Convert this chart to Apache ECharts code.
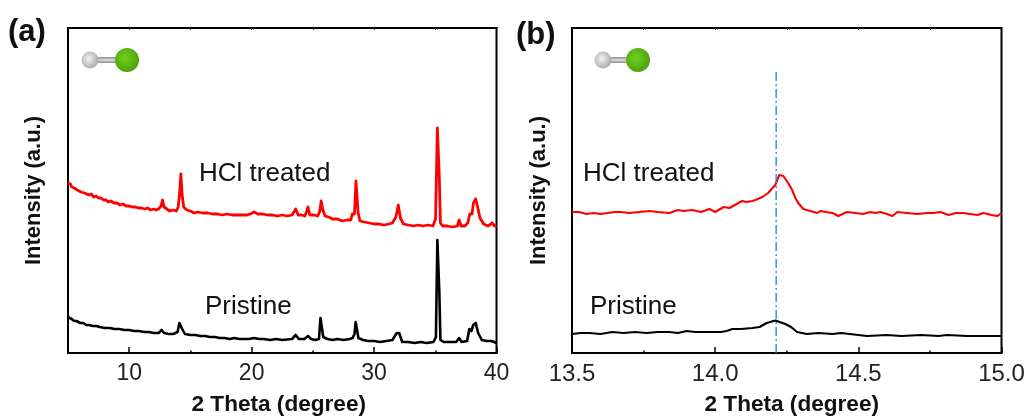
<!DOCTYPE html>
<html><head><meta charset="utf-8">
<style>html,body{margin:0;padding:0;background:#fff}#c{width:1027px;height:417px}</style>
<script src="https://cdn.jsdelivr.net/npm/echarts@6/dist/echarts.min.js"></script>
</head><body><div id="c"></div>
<script>
const hclTreatedA=[[5,170],[5.1,168],[5.2,169],[5.3,166],[5.4,167],[5.5,165],[5.6,166],[5.75,163],[5.9,164],[6.05,161],[6.2,162],[6.35,160],[6.5,161],[6.7,158],[6.9,159],[7.1,156],[7.3,157],[7.5,155],[7.7,155],[7.9,153],[8.1,153],[8.3,151],[8.5,152],[8.75,150],[9,150],[9.25,148],[9.5,149],[9.75,147],[10,147],[10.25,146],[10.5,146],[10.75,145],[11,145],[11.25,144],[11.5,145],[11.75,143],[12,144],[12.2,143],[12.4,144],[12.6,147],[12.72,153],[12.85,146],[13,144],[13.3,142],[13.6,143],[13.85,142],[14.0,146],[14.12,160],[14.22,179],[14.32,158],[14.45,146],[14.7,143],[15,142],[15.3,140],[15.6,141],[16,140],[16.4,140],[16.8,139],[17.2,139],[17.6,138],[18,139],[18.4,138],[18.8,138],[19.2,138],[19.6,138],[19.9,139],[20.2,141],[20.5,139],[20.9,139],[21.3,138],[21.7,138],[22.1,137],[22.5,138],[22.9,137],[23.3,138],[23.6,144],[23.8,138],[24.1,138],[24.35,137],[24.5,142],[24.6,146],[24.75,138],[25.1,138],[25.4,137],[25.55,141],[25.68,152],[25.82,143],[26,137],[26.3,136],[26.6,134],[27,134],[27.4,132],[27.8,133],[28.1,133],[28.22,139],[28.4,139],[28.52,172],[28.58,172],[28.7,140],[28.85,132],[29.2,131],[29.6,130],[30,129],[30.4,129],[30.8,128],[31.2,129],[31.5,130],[31.78,136],[31.98,148],[32.15,135],[32.4,129],[32.8,128],[33.2,127],[33.6,128],[34,127],[34.4,128],[34.8,127],[35.02,134],[35.17,225],[35.28,225],[35.33,175],[35.42,130],[35.6,127],[36,127],[36.4,126],[36.8,127],[36.95,133],[37.1,127],[37.4,127],[37.65,130],[37.82,139],[38,139],[38.12,150],[38.3,154],[38.42,148],[38.65,135],[38.95,129],[39.3,127],[39.65,130],[39.85,127],[40,127]];
const pristineA=[[5,36],[5.15,34],[5.3,34],[5.5,32],[5.7,32],[6,30],[6.25,30],[6.5,28],[6.75,28],[7,27],[7.3,27],[7.6,26],[8,25],[8.4,25],[8.8,24],[9.2,24],[9.6,23],[10,23],[10.4,22],[10.8,22],[11.2,21],[11.6,21],[12,20],[12.4,20],[12.65,23],[12.85,20],[13.2,19],[13.6,19],[13.95,21],[14.1,30],[14.22,32],[14.33,24],[14.55,19],[15,18],[15.4,18],[15.8,17],[16.2,17],[16.6,16],[17,16],[17.4,15],[17.8,15],[18.2,14],[18.6,15],[19,14],[19.4,14],[19.8,14],[20.2,15],[20.6,14],[21,14],[21.5,13],[22,14],[22.5,13],[23.3,14],[23.6,18],[23.85,14],[24.3,14],[24.6,17],[24.85,14],[25.2,13],[25.5,14],[25.62,35],[25.72,35],[25.85,16],[26.2,14],[26.6,13],[27,14],[27.5,13],[28,14],[28.25,15],[28.4,19],[28.5,31],[28.6,31],[28.72,15],[29.1,13],[29.5,12],[30,12],[30.5,11],[31,12],[31.5,13],[31.85,20],[32.05,20],[32.3,11],[32.8,11],[33.3,10],[33.8,11],[34.3,10],[34.85,11],[35.05,16],[35.17,113],[35.28,113],[35.33,61],[35.42,13],[35.7,11],[36.2,11],[36.7,11],[36.95,15],[37.15,11],[37.6,12],[37.78,24],[37.95,22],[38.1,28],[38.3,30],[38.5,20],[38.8,13],[39.2,12],[39.6,12],[40,10]];
const hclTreatedB=[[13.5,141],[13.525,141],[13.55,139],[13.575,140],[13.6,139],[13.625,140],[13.65,141],[13.67,141],[13.7,140],[13.735,141],[13.77,142],[13.8,141],[13.84,140],[13.87,143],[13.89,142],[13.92,143],[13.95,141],[13.98,144],[14,141],[14.03,146],[14.05,145],[14.075,149],[14.094,152],[14.11,151],[14.129,152],[14.14,153],[14.165,156],[14.185,160],[14.2,165],[14.21,168],[14.224,178],[14.238,177],[14.255,170],[14.269,163],[14.28,155],[14.29,150],[14.308,144],[14.332,142],[14.357,140],[14.367,142],[14.385,141],[14.41,140],[14.43,137],[14.46,141],[14.49,140],[14.517,139],[14.542,141],[14.56,140],[14.577,141],[14.6,139],[14.619,137],[14.636,141],[14.67,140],[14.706,139],[14.74,140],[14.762,140],[14.787,141],[14.815,138],[14.84,140],[14.867,140],[14.89,139],[14.916,138],[14.937,140],[14.965,138],[14.986,137],[15,140]];
const pristineB=[[13.5,19],[13.53,20],[13.56,20],[13.6,19],[13.64,21],[13.68,20],[13.72,21],[13.76,20],[13.8,21],[13.84,21],[13.87,20],[13.9,22],[13.93,21],[13.95,21],[14.02,21],[14.04,22],[14.06,24],[14.09,24],[14.13,25],[14.155,26],[14.18,30],[14.21,32.5],[14.245,29],[14.265,26],[14.286,21],[14.32,19],[14.36,20],[14.41,19],[14.44,20],[14.47,19],[14.53,17],[14.6,18],[14.65,17],[14.72,18],[14.78,17],[14.81,18],[14.88,17],[14.94,17],[15,17]];
const guideB=[[14.213,0],[14.213,281]];
const yRange=[0,325];
const rangeA=[5,40], majorA=[10,20,30,40], minorA=[15,25,35], topA=[10,15,20,25,30,35];
const rangeB=[13.5,15], stepB=0.5, topB=[13.75,14,14.25,14.5,14.75];
const labelTreated='HCl treated', labelPristine='Pristine';
const xName='2 Theta (degree)', yName='Intensity (a.u.)';

const FONT='"Liberation Sans", Arial, sans-serif';
const text=(x,y,t,size,weight)=>({type:'text',x,y,style:{text:t,font:`${weight||'normal'} ${size}px ${FONT}`,fill:'#111',textVerticalAlign:'middle'}});
const ball=(cx,cy,r,c0,c1)=>({type:'circle',shape:{cx,cy,r},style:{fill:{type:'radial',x:0.42,y:0.42,r:0.62,colorStops:[{offset:0,color:c0},{offset:1,color:c1}]}}});
const mol=(hx,clx,y)=>[
 {type:'rect',shape:{x:hx,y:y-3,width:clx-hx,height:6},style:{fill:{type:'linear',x:0,y:0,x2:0,y2:1,colorStops:[{offset:0,color:'#888'},{offset:.5,color:'#ddd'},{offset:1,color:'#888'}]}}},
 ball(hx,y,8.5,'#f2f2f2','#a8a8a8'),ball(clx,y,12,'#72d01e','#4aa00c')];
const black='#000';
const mainX=(gi,range,pad,extra)=>Object.assign({type:'value',gridIndex:gi,min:range[0],max:range[1],splitLine:{show:false},
  axisLine:{onZero:false,lineStyle:{color:black,width:2}},
  name:xName,nameLocation:'middle',nameGap:40,nameTextStyle:{color:'#111',fontSize:22.6,fontWeight:'bold',fontFamily:FONT,padding:pad}},extra);
const sideY=(gi,gap)=>({type:'value',gridIndex:gi,min:yRange[0],max:yRange[1],splitLine:{show:false},axisTick:{show:false},axisLabel:{show:false},
  axisLine:{onZero:false,lineStyle:{color:black,width:2}},
  name:yName,nameLocation:'middle',nameGap:gap,nameTextStyle:{color:'#111',fontSize:22,fontWeight:'bold',fontFamily:FONT}});
const topX=(gi,range,vals)=>({type:'value',gridIndex:gi,position:'top',min:range[0],max:range[1],splitLine:{show:false},axisLabel:{show:false},
  axisLine:{onZero:false,lineStyle:{color:black,width:2}},axisTick:{inside:true,length:2,lineStyle:{color:'#333',width:1},customValues:vals}});
const minorX=(gi,range,vals)=>({type:'value',gridIndex:gi,position:'bottom',min:range[0],max:range[1],splitLine:{show:false},axisLabel:{show:false},
  axisLine:{show:false},axisTick:{inside:true,length:2.5,lineStyle:{color:black,width:1.5},customValues:vals}});
const line=(xi,yi,data,color,w)=>({type:'line',xAxisIndex:xi,yAxisIndex:yi,data,symbol:'none',smooth:false,silent:true,lineStyle:{color,width:w,join:'round'}});
const labelStyle={color:'#222',fontFamily:FONT,margin:9};

const chart=echarts.init(document.getElementById('c'),null,{renderer:'canvas'});
chart.setOption({
 animation:false,backgroundColor:'#fff',
 grid:[{left:68,top:28,width:428.5,height:325,show:true,borderColor:black,borderWidth:2,backgroundColor:'transparent',outerBoundsMode:'none'},
       {left:572,top:28,width:429.5,height:325,show:true,borderColor:black,borderWidth:2,backgroundColor:'transparent',outerBoundsMode:'none'}],
 xAxis:[
  mainX(0,rangeA,[0,7,0,0],{interval:5,axisTick:{inside:true,length:6,lineStyle:{color:black,width:1.5},customValues:majorA},axisLabel:Object.assign({fontSize:23,customValues:majorA},labelStyle)}),
  mainX(1,rangeB,[0,0,0,10],{interval:stepB,axisTick:{inside:true,length:6,lineStyle:{color:black,width:1.5}},minorTick:{show:true,splitNumber:2,length:2.5,lineStyle:{color:black,width:1.5}},axisLabel:Object.assign({fontSize:24,formatter:v=>v.toFixed(1),showMinLabel:true,showMaxLabel:true},labelStyle)}),
  topX(0,rangeA,topA),topX(1,rangeB,topB),minorX(0,rangeA,minorA)
 ],
 yAxis:[sideY(0,23),sideY(1,22)],
 series:[
  line(0,0,hclTreatedA,'#ff0000',2.8),
  line(0,0,pristineA,'#000000',2.6),
  line(1,1,hclTreatedB,'#ff0000',2.1),
  line(1,1,pristineB,'#000000',2.1),
  {type:'line',xAxisIndex:1,yAxisIndex:1,data:guideB,symbol:'none',silent:true,lineStyle:{color:'#1e90d8',width:1.4,type:[9,3,2,3]}}
 ],
 graphic:[
  text(8,32,'(a)',31,'bold'),text(516,35,'(b)',31,'bold'),
  text(199,173.5,labelTreated,26),text(205,306.5,labelPristine,26),
  text(583,173.5,labelTreated,26),text(590,306.5,labelPristine,26),
  ...mol(90,127,60),...mol(603,638,60)
 ]
});
</script></body></html>
